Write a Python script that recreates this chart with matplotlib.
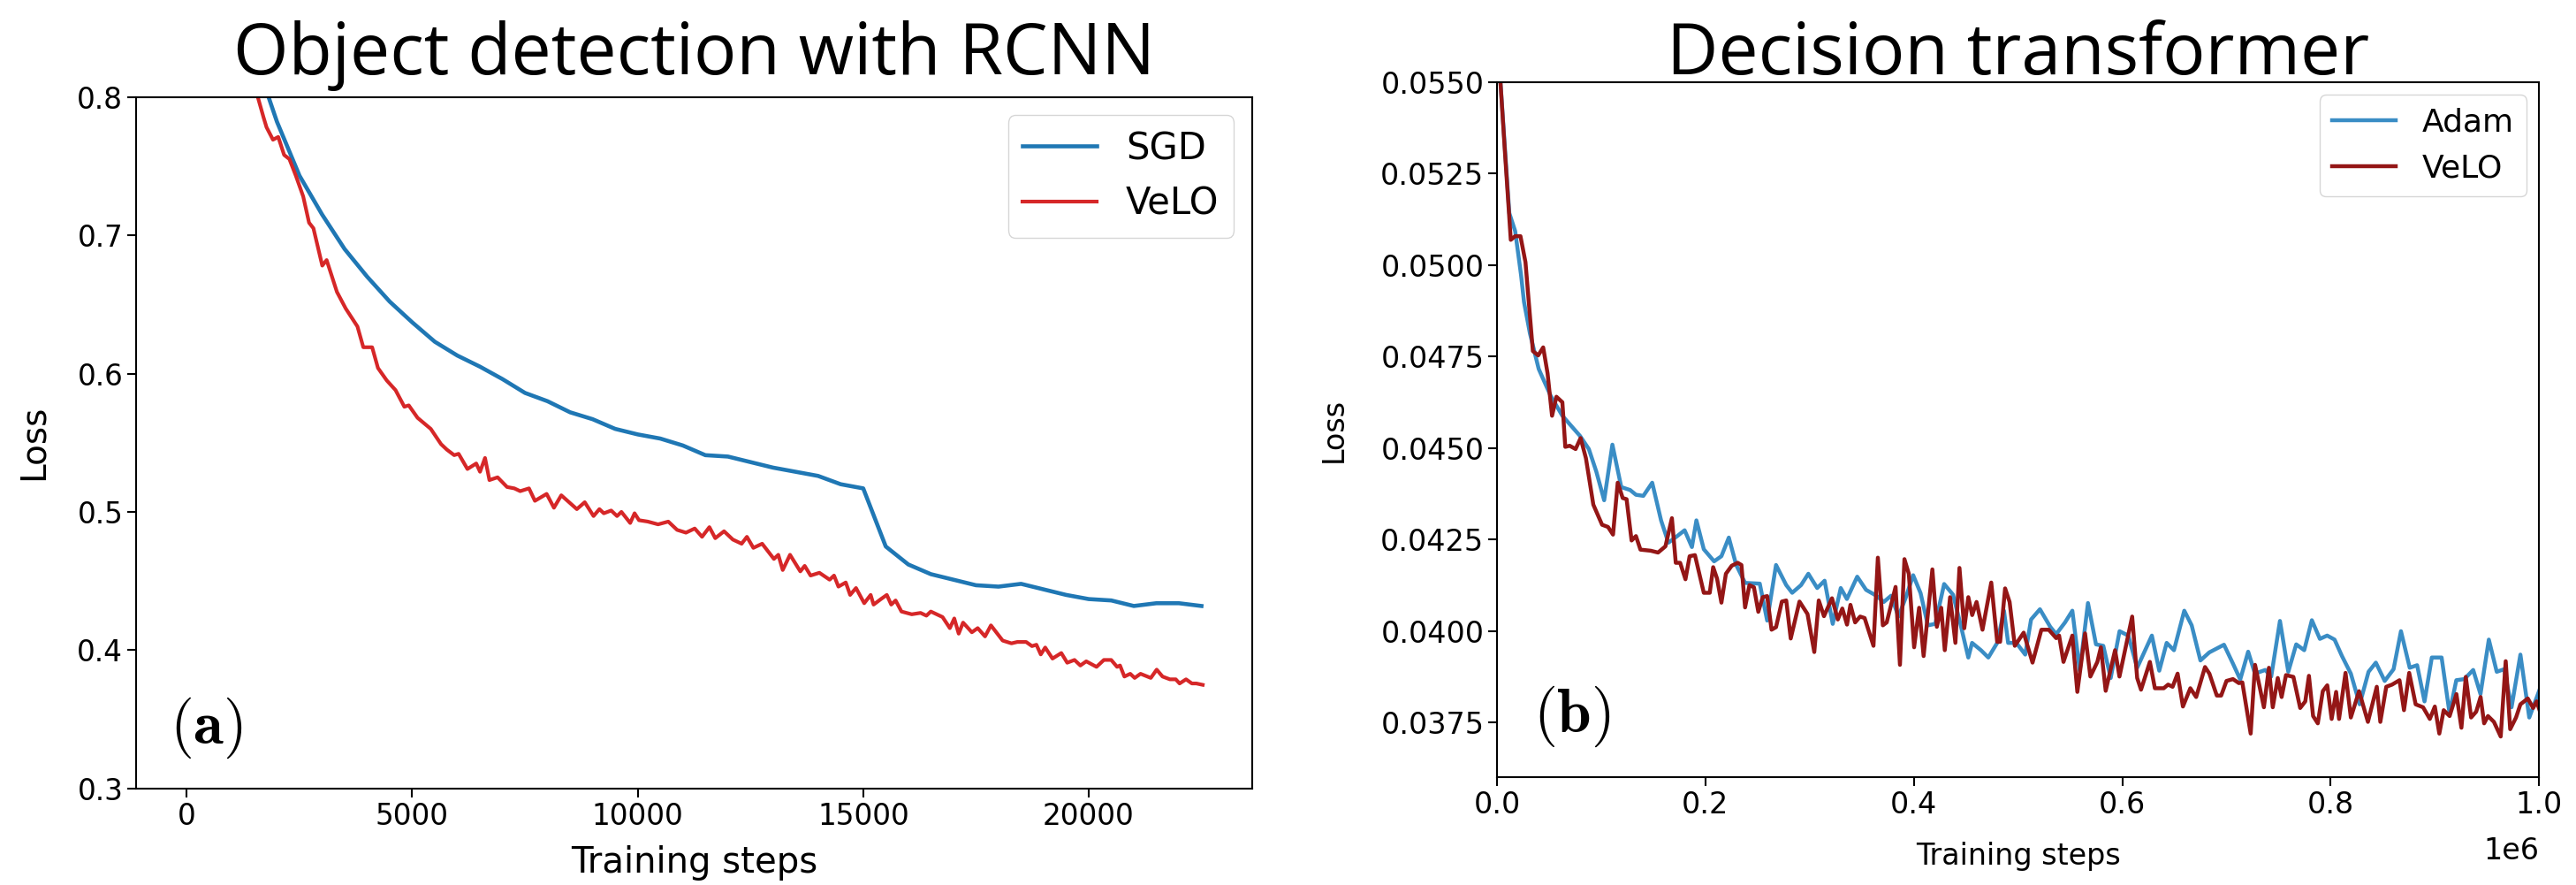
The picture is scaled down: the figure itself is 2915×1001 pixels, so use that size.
import matplotlib
matplotlib.use("Agg")
import matplotlib.pyplot as plt

plt.rcParams['mathtext.fontset'] = 'cm'

# ---- (a) Object detection with RCNN ----
sgd_steps = [0, 500, 1000, 1500, 2000, 2500, 3000, 3500, 4000, 4500, 5000, 5500,
             6000, 6500, 7000, 7500, 8000, 8500, 9000, 9500, 10000, 10500, 11000,
             11500, 12000, 12500, 13000, 13500, 14000, 14500, 15000, 15500, 16000,
             16500, 17000, 17500, 18000, 18500, 19000, 19500, 20000, 20500, 21000,
             21500, 22000, 22500]
sgd_loss = [1.25, 1.0, 0.89, 0.83, 0.782, 0.743, 0.715, 0.690, 0.670, 0.652, 0.637,
            0.623, 0.613, 0.605, 0.596, 0.586, 0.580, 0.572, 0.567, 0.560, 0.556,
            0.553, 0.548, 0.541, 0.540, 0.536, 0.532, 0.529, 0.526, 0.520, 0.517,
            0.475, 0.462, 0.455, 0.451, 0.447, 0.446, 0.448, 0.444, 0.440, 0.437,
            0.436, 0.432, 0.434, 0.434, 0.432]

velo_a_steps = [0, 500, 1000, 1574, 1704, 1769, 1912, 2029, 2159, 2276, 2419, 2582,
                2712, 2809, 3005, 3102, 3330, 3525, 3785, 3915, 4111, 4240, 4435,
                4630, 4825, 4923, 5118, 5411, 5638, 5768, 5931, 6028, 6224, 6419,
                6503, 6614, 6711, 6893, 7102, 7264, 7394, 7589, 7720, 7980, 8142,
                8305, 8650, 8825, 9020, 9150, 9248, 9411, 9541, 9638, 9833, 9930,
                10028, 10223, 10451, 10678, 10873, 11069, 11264, 11426, 11589,
                11719, 11914, 12109, 12304, 12421, 12564, 12759, 13020, 13117,
                13215, 13377, 13605, 13702, 13833, 14028, 14255, 14353, 14450,
                14613, 14710, 14840, 15022, 15165, 15230, 15393, 15523, 15621,
                15718, 15848, 16076, 16271, 16401, 16499, 16759, 16921, 17019,
                17117, 17214, 17409, 17539, 17701, 17832, 18092, 18287, 18417,
                18612, 18742, 18840, 18937, 19035, 19197, 19392, 19523, 19685,
                19815, 19945, 20173, 20336, 20499, 20629, 20694, 20791, 20921,
                21019, 21149, 21377, 21507, 21637, 21800, 21930, 22015, 22158,
                22288, 22386, 22528]
velo_a_loss = [1.30, 1.05, 0.90, 0.800, 0.785, 0.778, 0.769, 0.771, 0.758, 0.755,
               0.743, 0.728, 0.709, 0.705, 0.678, 0.682, 0.659, 0.647, 0.634, 0.619,
               0.619, 0.604, 0.595, 0.588, 0.576, 0.577, 0.568, 0.560, 0.549, 0.545,
               0.541, 0.542, 0.531, 0.535, 0.529, 0.539, 0.523, 0.525, 0.518, 0.517,
               0.515, 0.517, 0.508, 0.513, 0.503, 0.512, 0.502, 0.507, 0.497, 0.502,
               0.499, 0.501, 0.497, 0.500, 0.492, 0.499, 0.494, 0.493, 0.491, 0.493,
               0.487, 0.485, 0.488, 0.482, 0.489, 0.481, 0.486, 0.480, 0.477, 0.482,
               0.474, 0.477, 0.466, 0.469, 0.458, 0.469, 0.457, 0.461, 0.454, 0.456,
               0.451, 0.454, 0.446, 0.449, 0.440, 0.445, 0.434, 0.440, 0.433, 0.437,
               0.440, 0.433, 0.436, 0.428, 0.426, 0.427, 0.425, 0.428, 0.424, 0.416,
               0.423, 0.412, 0.420, 0.413, 0.416, 0.410, 0.418, 0.407, 0.405, 0.406,
               0.406, 0.403, 0.404, 0.397, 0.402, 0.394, 0.398, 0.391, 0.393, 0.389,
               0.392, 0.388, 0.393, 0.393, 0.388, 0.389, 0.381, 0.383, 0.380, 0.383,
               0.380, 0.386, 0.381, 0.379, 0.379, 0.376, 0.379, 0.376, 0.376, 0.375]

# ---- (b) Decision transformer ----
adam_steps = [0, 3400, 11900, 17500, 23200, 26000, 31700, 40100, 51500, 62800, 79700,
              88200, 95300, 102900, 110800, 119300, 127800, 133400, 140500, 149000,
              157500, 164500, 173000, 180100, 187100, 191400, 198500, 208400, 215400,
              222500, 229600, 238100, 252200, 259300, 267800, 277600, 283300, 291800,
              298800, 307300, 314400, 322200, 329900, 335800, 345700, 354200, 364100,
              371200, 378200, 385300, 392400, 399400, 406500, 413500, 420600, 429100,
              437600, 444700, 452300, 455900, 464400, 471500, 480000, 486500, 490500,
              498400, 506900, 512500, 521000, 530900, 536600, 545100, 552100, 559200,
              567100, 574800, 581800, 588900, 597400, 605800, 614300, 628400, 635500,
              642600, 649600, 659500, 666600, 675000, 683500, 697600, 706100, 713200,
              720800, 727300, 737200, 742900, 751300, 759300, 766900, 774600, 781900,
              789600, 796600, 803700, 810800, 819300, 827800, 836300, 843300, 851800,
              860300, 867400, 875800, 882900, 890000, 897000, 906400, 914000, 920500,
              928200, 936700, 943700, 951700, 959300, 966400, 973500, 982000, 990500,
              1000400]
adam_loss = [0.0566, 0.0550, 0.05142, 0.05093, 0.04972, 0.04899, 0.04813, 0.04716,
             0.04643, 0.04588, 0.04533, 0.04497, 0.04436, 0.04357, 0.04509, 0.04393,
             0.04385, 0.04372, 0.04369, 0.04405, 0.04302, 0.04241, 0.04259, 0.04275,
             0.04229, 0.04302, 0.04223, 0.04190, 0.04204, 0.04255, 0.04180, 0.04131,
             0.04129, 0.04028, 0.04180, 0.04125, 0.04104, 0.04125, 0.04156, 0.04117,
             0.04137, 0.04019, 0.04117, 0.04087, 0.04148, 0.04112, 0.04096, 0.04079,
             0.04096, 0.04039, 0.04092, 0.04152, 0.04103, 0.04015, 0.04019, 0.04128,
             0.04099, 0.04019, 0.03927, 0.03967, 0.03947, 0.03927, 0.03967, 0.04055,
             0.03967, 0.03967, 0.03935, 0.04031, 0.04059, 0.04011, 0.03991, 0.04023,
             0.04055, 0.03891, 0.04076, 0.03963, 0.03959, 0.03871, 0.03999, 0.03987,
             0.03899, 0.03987, 0.03891, 0.03967, 0.03947, 0.04055, 0.04015, 0.03919,
             0.03941, 0.03962, 0.03911, 0.03867, 0.03943, 0.03883, 0.03893, 0.03875,
             0.04027, 0.03888, 0.03963, 0.03947, 0.04029, 0.03978, 0.03987, 0.03976,
             0.03931, 0.03883, 0.03799, 0.03888, 0.03913, 0.03863, 0.03895, 0.03999,
             0.03899, 0.03906, 0.03807, 0.03927, 0.03927, 0.03775, 0.03865, 0.03868,
             0.03893, 0.03827, 0.03976, 0.03888, 0.03895, 0.03791, 0.03935, 0.03763,
             0.03839]

velo_b_steps = [0, 3400, 7600, 13300, 17500, 22600, 27400, 34500, 39600, 44400, 48600,
                52900, 57100, 62800, 65600, 69800, 75500, 80300, 85400, 92500, 100900,
                106600, 111400, 115900, 120700, 124400, 129200, 133400, 137700, 147600,
                154600, 161700, 167900, 171600, 175800, 180900, 184900, 190000, 198500,
                204200, 207500, 211200, 215400, 219700, 225300, 231000, 234600, 238100,
                242300, 246600, 250800, 255000, 259300, 263500, 267800, 273400, 277600,
                281900, 290300, 298000, 304500, 308800, 313800, 321500, 327100, 331400,
                335900, 339200, 343700, 348500, 352800, 361300, 365500, 370300, 374000,
                382500, 386700, 391000, 395200, 400300, 405100, 409400, 417800, 422100,
                426300, 429700, 434800, 439900, 443800, 448400, 452300, 456000, 460200,
                465900, 474300, 480000, 482800, 487600, 491900, 496900, 505400, 513900,
                522400, 529500, 536600, 539400, 543600, 552100, 556900, 564300, 569400,
                576100, 579500, 584100, 593100, 597300, 609500, 614300, 618000, 626500,
                631300, 639800, 644000, 648300, 653100, 658200, 665300, 670900, 679400,
                683600, 690700, 694900, 700000, 706200, 711900, 715200, 723200, 727400,
                735900, 740700, 744400, 749200, 752900, 757100, 764200, 770700, 775600,
                779100, 783100, 787600, 792400, 796700, 800900, 805200, 808000, 814200,
                819300, 827200, 835700, 844200, 847600, 853300, 858900, 866000, 870300,
                875300, 881500, 888600, 895100, 899900, 904200, 908400, 914100, 920600,
                925400, 929600, 934700, 939600, 943800, 947200, 950900, 956600, 963100,
                967900, 972200, 977800, 982000, 989100, 994200, 997600, 1000400]
velo_b_loss = [0.0566, 0.0550, 0.05313, 0.05069, 0.05079, 0.05079, 0.05008, 0.04765,
               0.04753, 0.04775, 0.04704, 0.04588, 0.04640, 0.04625, 0.04503, 0.04506,
               0.04497, 0.04527, 0.04472, 0.04345, 0.04290, 0.04284, 0.04263, 0.04405,
               0.04363, 0.04360, 0.04247, 0.04259, 0.04222, 0.04219, 0.04214, 0.04231,
               0.04308, 0.04186, 0.04186, 0.04141, 0.04204, 0.04207, 0.04104, 0.04104,
               0.04174, 0.04143, 0.04077, 0.04156, 0.04178, 0.04186, 0.04180, 0.04064,
               0.04125, 0.04119, 0.04052, 0.04092, 0.04095, 0.04003, 0.04010, 0.04080,
               0.04083, 0.03979, 0.04080, 0.04046, 0.03942, 0.04083, 0.04040, 0.04089,
               0.04031, 0.04061, 0.04017, 0.04071, 0.04023, 0.04039, 0.04035, 0.03959,
               0.04200, 0.04015, 0.04023, 0.04120, 0.03907, 0.04196, 0.04156, 0.03955,
               0.04063, 0.03931, 0.04168, 0.04011, 0.04063, 0.03947, 0.04092, 0.03967,
               0.04172, 0.04007, 0.04092, 0.04043, 0.04079, 0.04003, 0.04132, 0.03970,
               0.03970, 0.04116, 0.04079, 0.03959, 0.03995, 0.03913, 0.04003, 0.04003,
               0.03980, 0.03987, 0.03915, 0.03987, 0.03833, 0.03993, 0.03875, 0.03915,
               0.03955, 0.03836, 0.03947, 0.03875, 0.04039, 0.03871, 0.03839, 0.03915,
               0.03843, 0.03843, 0.03853, 0.03847, 0.03883, 0.03793, 0.03843, 0.03819,
               0.03901, 0.03883, 0.03823, 0.03823, 0.03863, 0.03868, 0.03857, 0.03859,
               0.03719, 0.03907, 0.03791, 0.03899, 0.03791, 0.03871, 0.03819, 0.03879,
               0.03874, 0.03789, 0.03807, 0.03877, 0.03767, 0.03747, 0.03835, 0.03851,
               0.03759, 0.03833, 0.03759, 0.03885, 0.03763, 0.03835, 0.03751, 0.03847,
               0.03751, 0.03847, 0.03853, 0.03865, 0.03783, 0.03885, 0.03799, 0.03791,
               0.03759, 0.03793, 0.03719, 0.03783, 0.03767, 0.03827, 0.03735, 0.03874,
               0.03763, 0.03779, 0.03819, 0.03747, 0.03767, 0.03751, 0.03711, 0.03917,
               0.03731, 0.03763, 0.03799, 0.03815, 0.03789, 0.03807, 0.03783]

fig = plt.figure(figsize=(29.15, 10.01), dpi=100)
ax1 = fig.add_axes([0.0528, 0.1089, 0.4333, 0.7817])
ax2 = fig.add_axes([0.5811, 0.1219, 0.4046, 0.7852])

# left panel
ax1.plot(sgd_steps, sgd_loss, color='#1f77b4', lw=3.3, label='SGD')
ax1.plot(velo_a_steps, velo_a_loss, color='#d62728', lw=3.0, label='VeLO')
ax1.set_xlim(-1125, 23625)
ax1.set_ylim(0.3, 0.8)
ax1.set_xticks([0, 5000, 10000, 15000, 20000])
ax1.set_yticks([0.3, 0.4, 0.5, 0.6, 0.7, 0.8])
ax1.tick_params(labelsize=23.5, length=7, width=1.5)
ax1.set_xlabel('Training steps', fontsize=29, labelpad=12)
ax1.set_ylabel('Loss', fontsize=28, labelpad=22)
ax1.legend(loc='upper right', fontsize=30, borderaxespad=0.5)
ax1.text(0.03, 0.065, r'$\mathbf{(a)}$', fontsize=50, transform=ax1.transAxes)

# right panel
ax2.plot(adam_steps, adam_loss, color='#3a8dc5', lw=3.2, label='Adam')
ax2.plot(velo_b_steps, velo_b_loss, color='#941616', lw=3.2, label='VeLO')
ax2.set_xlim(0, 1e6)
ax2.set_ylim(0.036, 0.055)
ax2.set_yticks([0.0375, 0.0400, 0.0425, 0.0450, 0.0475, 0.0500, 0.0525, 0.0550])
ax2.yaxis.set_major_formatter(matplotlib.ticker.FormatStrFormatter('%.4f'))
ax2.tick_params(labelsize=24, length=7, width=1.5)
ax2.xaxis.get_offset_text().set_fontsize(24)
ax2.xaxis.OFFSETTEXTPAD = 14
ax2.set_xlabel('Training steps', fontsize=24, labelpad=18)
ax2.set_ylabel('Loss', fontsize=24, labelpad=26)
ax2.legend(loc='upper right', fontsize=26, borderaxespad=0.4)
ax2.text(0.035, 0.065, r'$\mathbf{(b)}$', fontsize=50, transform=ax2.transAxes)

for ax in (ax1, ax2):
    for s in ax.spines.values():
        s.set_linewidth(1.5)

# titles
for ax, title in ((ax1, 'Object detection with RCNN'), (ax2, 'Decision transformer')):
    pos = ax.get_position()
    fig.text((pos.x0 + pos.x1) / 2, 0.916, title, ha='center', va='baseline',
             fontsize=58, family=['Open Sans', 'DejaVu Sans'])

fig.savefig('out.png', dpi=100)
